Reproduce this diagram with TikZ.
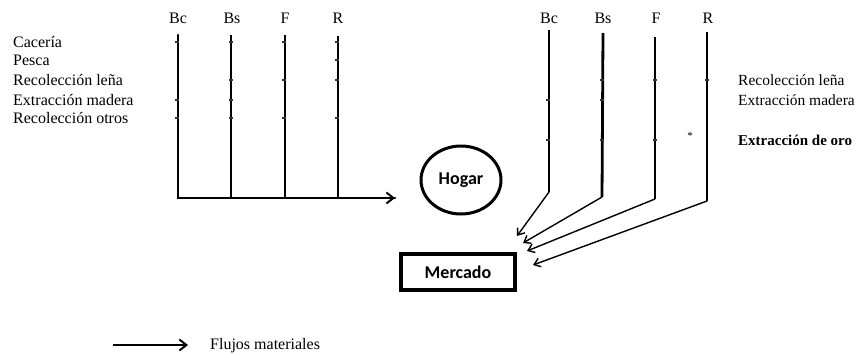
\documentclass[tikz,border=0pt]{standalone}
\usepackage{fontspec}
\setmainfont{Liberation Serif}
\newfontfamily\calfont{Carlito}
\usetikzlibrary{arrows.meta,shapes.geometric}
\tikzset{
  lbl/.style={font=\fontsize{16}{18}\selectfont, inner sep=0pt},
  rowlbl/.style={lbl, anchor=west},
  colhead/.style={lbl, anchor=base},
  thickline/.style={line width=2.8pt},
  thinline/.style={line width=1.4pt},
  tick/.style={line width=1.8pt, draw=black!80},
  flow/.style={line width=1.4pt, -{Straight Barb[length=6pt,width=9pt,line width=1.4pt]}},
  bigflow/.style={line width=2pt, -{Straight Barb[length=7pt,width=11pt,line width=2pt]}},
  boxtext/.style={font=\calfont\bfseries\fontsize{18}{20}\selectfont},
}
\newcommand{\tk}[2]{\draw[tick] (#1-3,#2) -- (#1+1,#2);}
\begin{document}
\begin{tikzpicture}[x=1pt,y=-1pt]
\useasboundingbox (0,0) rectangle (858,354);
% ---------- left block ----------
\node[colhead] (hBcL) at (178,23) {Bc};
\node[colhead] (hBsL) at (232,23) {Bs};
\node[colhead] (hFL)  at (285,23) {F};
\node[colhead] (hRL)  at (338,23) {R};
\node[rowlbl] (r1) at (13,42) {Cacería};
\node[rowlbl] (r2) at (13,60) {Pesca};
\node[rowlbl] (r3) at (13,80) {Recolección leña};
\node[rowlbl] (r4) at (13,100) {Extracción madera};
\node[rowlbl] (r5) at (13,118) {Recolección otros};
\coordinate (tBcL) at (178,35);
\coordinate (tBsL) at (231,35);
\coordinate (tFL) at (285,35);
\coordinate (tRL) at (338,36);
\coordinate (hEnd) at (395,198);
\draw[thickline,line cap=round] (tBcL) |- (hEnd);
\draw[thickline] (tBsL) -- (tBsL |- hEnd);
\draw[line width=2pt] (tFL) -- (tFL |- hEnd);
\draw[thickline] (tRL) -- (tRL |- hEnd);
\draw[bigflow] (tRL |- hEnd) -- (hEnd);
% ticks left
\tk{178}{42}\tk{178}{100}\tk{178}{118}
\tk{232}{42}\tk{232}{80}\tk{232}{100}\tk{232}{118}
\tk{285}{42}\tk{285}{80}\tk{285}{118}
\tk{338}{42}\tk{338}{60}\tk{338}{80}\tk{338}{118}
% ---------- centre ----------
\node[ellipse, draw, line width=3pt, minimum width=80pt, minimum height=68pt, boxtext] (hogar) at (461,180) {Hogar};
\node[rectangle, draw, line width=3.5pt, minimum width=114pt, minimum height=36pt, boxtext] (mercado) at (458,272) {Mercado};
% ---------- right block ----------
\node[colhead] (hBcR) at (549,23) {Bc};
\node[colhead] (hBsR) at (603,23) {Bs};
\node[colhead] (hFR)  at (656,23) {F};
\node[colhead] (hRR)  at (708,23) {R};
\coordinate (tBcR) at (549,30);
\coordinate (tBsR) at (603,33);
\coordinate (tFR) at (655,37);
\coordinate (tRR) at (707,32);
\coordinate (bBcR) at (549,192);
\coordinate (bBsR) at (602,197);
\coordinate (bFR) at (655,199);
\coordinate (bRR) at (707,201);
\coordinate (aBc) at (517,236);
\coordinate (aBs) at (523,243);
\coordinate (aF) at (527,251);
\coordinate (aR) at (533,265);
\draw[thinline] (tBcR) -- (bBcR);
\draw[thickline] (tBsR) -- (bBsR);
\draw[thinline] (tFR) -- (bFR);
\draw[thickline] (tRR) -- (bRR);
\draw[flow] (bBcR) -- (aBc);
\draw[flow] (bBsR) -- (aBs);
\draw[flow] (bFR) -- (aF);
\draw[flow] (bRR) -- (aR);
\tk{549}{100}\tk{549}{140}
\tk{603}{80}\tk{603}{100}\tk{603}{140}
\tk{656}{80}\tk{656}{140}
\tk{708}{80}
\node[font=\fontsize{11}{11}\selectfont, inner sep=0pt] (star) at (690,136) {*};
\node[rowlbl, font=\fontsize{15.5}{18}\selectfont] (q1) at (738,80) {Recolección leña};
\node[rowlbl, font=\fontsize{15.5}{18}\selectfont] (q2) at (738,100) {Extracción madera};
\node[rowlbl, font=\bfseries\fontsize{15}{18}\selectfont] (q3) at (738,140) {Extracción de oro};
% ---------- legend ----------
\coordinate (legA) at (113,345);
\coordinate (legB) at (188,345);
\draw[bigflow] (legA) -- (legB);
\node[rowlbl] (legT) at (210,346) {Flujos materiales};
\end{tikzpicture}
\end{document}
